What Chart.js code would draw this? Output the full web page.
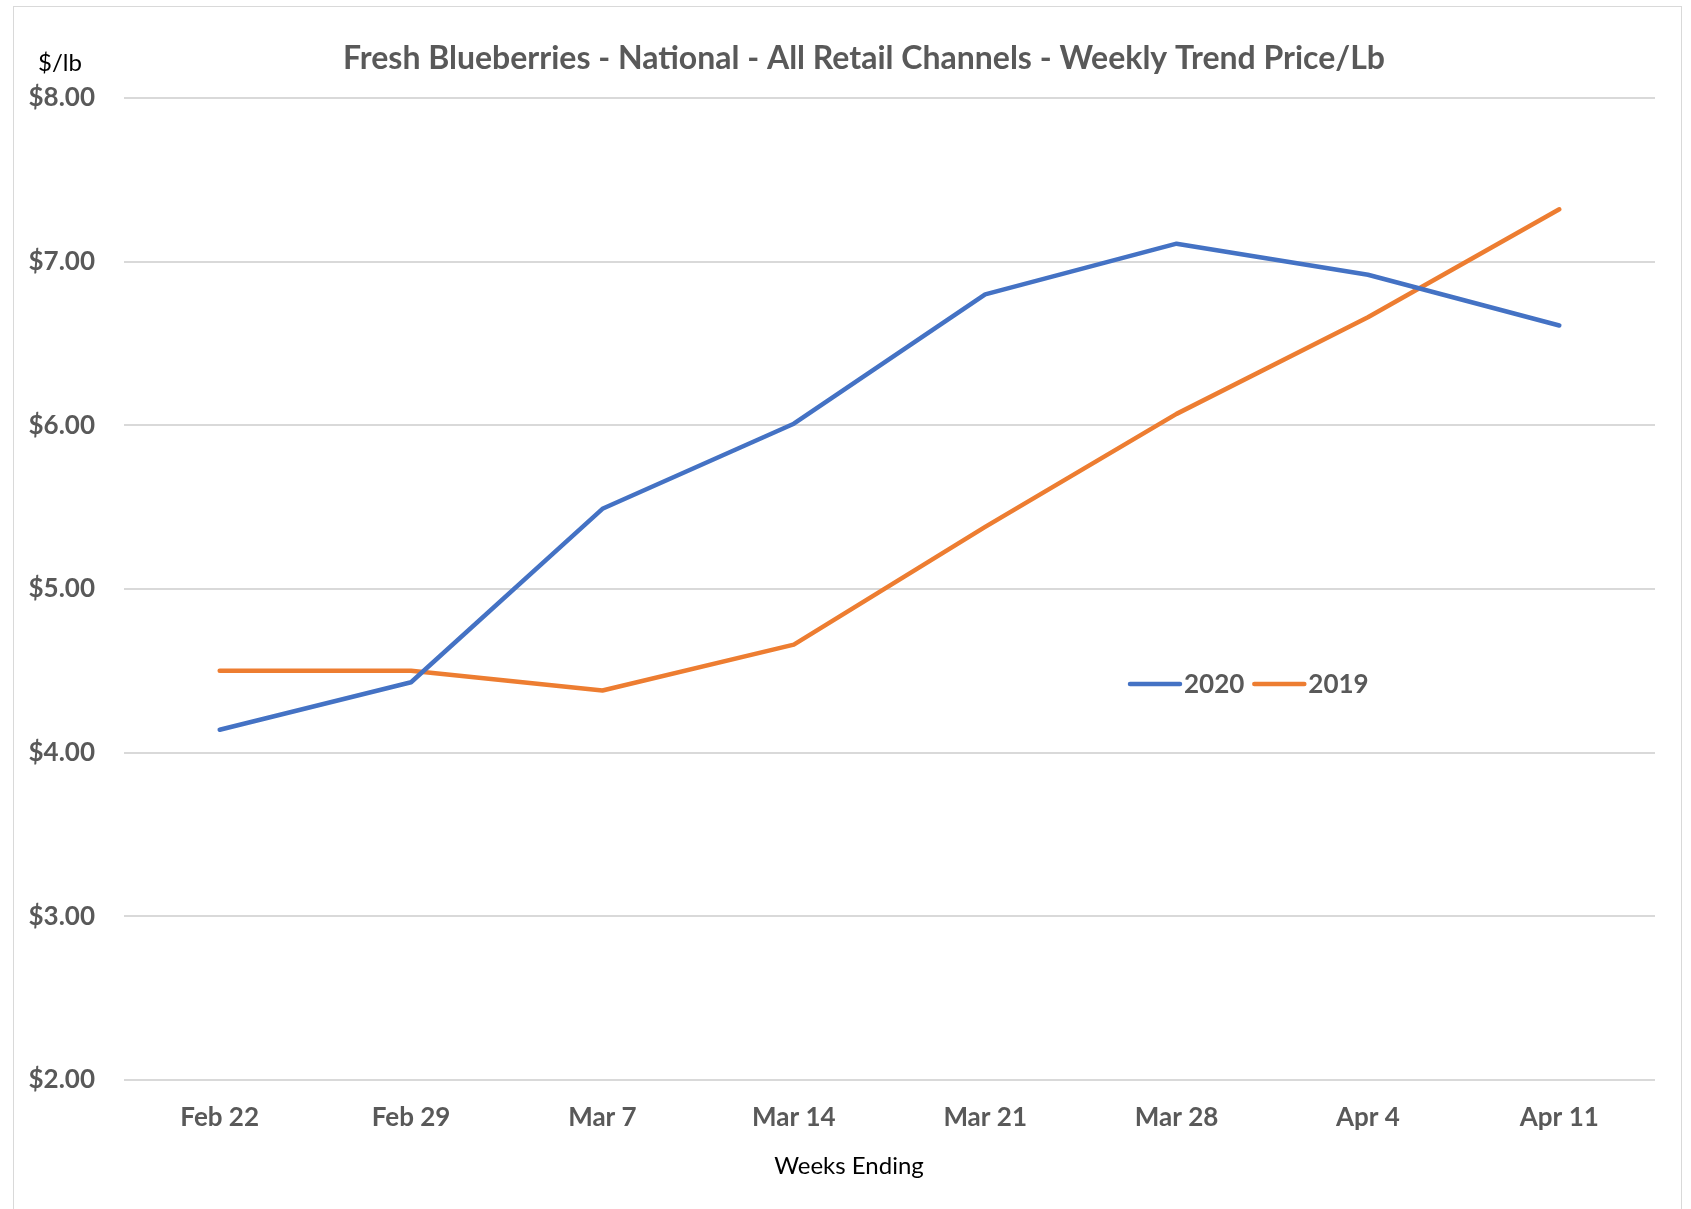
<!DOCTYPE html>
<html>
<head>
<meta charset="utf-8">
<script src="https://cdn.jsdelivr.net/npm/chart.js@4.4.0/dist/chart.umd.min.js"></script>
<style>
    html, body { margin: 0; padding: 0; background: #fff; }
    #wrap { position: relative; width: 1691px; height: 1209px; overflow: hidden; }
    #frame { position: absolute; left: 13px; top: 6px; width: 1667px; height: 1240px; border: 1px solid #d9d9d9; }
    canvas { position: absolute; left: 0; top: 0; }
</style>
</head>
<body>
<div id="wrap">
    <div id="frame"></div>
    <canvas id="chart" width="1691" height="1209"></canvas>
</div>
<script>
// Weekly trend price per lb
const weeks = ['Feb 22', 'Feb 29', 'Mar 7', 'Mar 14', 'Mar 21', 'Mar 28', 'Apr 4', 'Apr 11'];
const price2020 = [4.14, 4.43, 5.49, 6.01, 6.80, 7.11, 6.92, 6.61];
const price2019 = [4.50, 4.50, 4.38, 4.66, 5.38, 6.07, 6.66, 7.32];
const seriesNames = ['2020', '2019'];

const TEXT_GRAY = '#595959';
const FONT = 'Lato, "Open Sans", sans-serif';

/**
 * Draws the title, the unit label, the axis title and the inline legend
 */
const annotations = {
    id: 'annotations',
    afterDraw(chart) {
        const ctx = chart.ctx;
        ctx.save();

        // Title
        ctx.fillStyle = TEXT_GRAY;
        ctx.font = `bold 32px ${FONT}`;
        ctx.textAlign = 'center';
        ctx.textBaseline = 'middle';
        ctx.fillText('Fresh Blueberries - National - All Retail Channels - Weekly Trend Price/Lb', 864, 59);

        // Unit label and x axis title
        ctx.fillStyle = '#000';
        ctx.font = `24px ${FONT}`;
        ctx.fillText('$/lb', 60, 63);
        ctx.fillText('Weeks Ending', 849, 1166);

        // Legend, drawn from the datasets themselves
        let x = 1130;
        const y = 684;
        ctx.font = `bold 26px ${FONT}`;
        ctx.textAlign = 'left';
        chart.data.datasets.forEach(ds => {
            ctx.strokeStyle = ds.borderColor;
            ctx.lineWidth = 4.5;
            ctx.lineCap = 'round';
            ctx.beginPath();
            ctx.moveTo(x, y);
            ctx.lineTo(x + 50, y);
            ctx.stroke();
            ctx.fillStyle = TEXT_GRAY;
            ctx.fillText(ds.label, x + 54, y + 1);
            x += 54 + ctx.measureText(ds.label).width + 10;
        });
        ctx.restore();
    }
};

new Chart(document.getElementById('chart').getContext('2d'), {
    type: 'line',
    data: {
        labels: weeks,
        datasets: [
            {
                label: seriesNames[0],
                data: price2020,
                borderColor: '#4472c4',
                borderWidth: 4.5,
                borderCapStyle: 'round',
                borderJoinStyle: 'round',
                pointRadius: 0,
                tension: 0
            },
            {
                label: seriesNames[1],
                data: price2019,
                borderColor: '#ed7d31',
                borderWidth: 4.5,
                borderCapStyle: 'round',
                borderJoinStyle: 'round',
                pointRadius: 0,
                tension: 0
            }
        ]
    },
    options: {
        responsive: false,
        animation: false,
        devicePixelRatio: 1,
        layout: {
            padding: { top: 98, right: 36, bottom: 0, left: 0 }
        },
        scales: {
            x: {
                offset: true,
                grid: { display: false },
                border: { display: false },
                ticks: {
                    color: TEXT_GRAY,
                    font: { family: FONT, size: 26, weight: 'bold' },
                    padding: 14,
                    maxRotation: 0
                },
                afterFit(scale) { scale.height = 129; }
            },
            y: {
                min: 2,
                max: 8,
                grid: { color: '#d9d9d9', lineWidth: 2, drawTicks: false },
                border: { display: false },
                ticks: {
                    stepSize: 1,
                    color: TEXT_GRAY,
                    font: { family: FONT, size: 26, weight: 'bold' },
                    padding: 29,
                    callback: value => '$' + value.toFixed(2)
                },
                afterFit(scale) { scale.width = 124; }
            }
        },
        plugins: {
            legend: { display: false },
            title: { display: false },
            tooltip: { enabled: false }
        }
    },
    plugins: [annotations]
});
</script>
</body>
</html>
